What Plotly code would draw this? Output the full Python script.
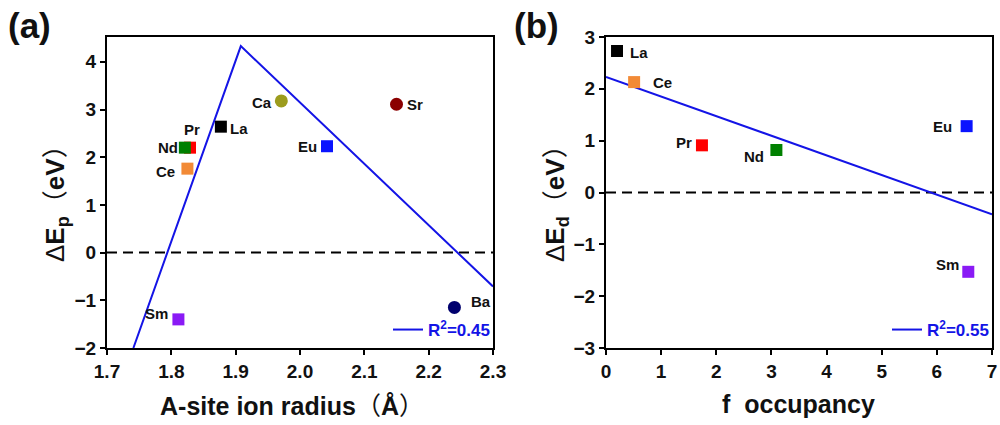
import plotly.graph_objects as go

# ---------------- data: panel (a) ----------------
a_elements = ["La", "Pr", "Nd", "Ce", "Ca", "Sr", "Eu", "Sm", "Ba"]
a_radius = [1.877, 1.829, 1.821, 1.825, 1.971, 2.150, 2.042, 1.811, 2.240]
a_dEp = [2.64, 2.20, 2.20, 1.76, 3.18, 3.11, 2.23, -1.40, -1.15]
a_symbols = ["square", "square", "square", "square", "circle", "circle", "square", "square", "circle"]
a_colors = ["#000000", "#FF0000", "#008000", "#F28A36", "#9C9C1E", "#8B0000", "#0A14FF", "#8A1AF5", "#00006E"]
a_fit_x = [1.741, 1.908, 2.300]
a_fit_y = [-2.00, 4.33, -0.71]
a_fit_name = "R<sup>2</sup>=0.45"
a_xticks = [1.7, 1.8, 1.9, 2.0, 2.1, 2.2, 2.3]
a_yticks = [-2, -1, 0, 1, 2, 3, 4]

# ---------------- data: panel (b) ----------------
b_elements = ["La", "Ce", "Pr", "Nd", "Eu", "Sm"]
b_focc = [0.20, 0.51, 1.74, 3.09, 6.54, 6.57]
b_dEd = [2.73, 2.13, 0.91, 0.82, 1.28, -1.53]
b_colors = ["#000000", "#F28A36", "#FF0000", "#008000", "#0A14FF", "#8A1AF5"]
b_fit_x = [0.0, 7.0]
b_fit_y = [2.23, -0.42]
b_fit_name = "R<sup>2</sup>=0.55"
b_xticks = [0, 1, 2, 3, 4, 5, 6, 7]
b_yticks = [-3, -2, -1, 0, 1, 2, 3]

# label offsets in pixels (style)
a_offsets = {"La": (18, -2), "Pr": (2, 18), "Nd": (-17, 0), "Ce": (-22, -3), "Ca": (-19, -2),
             "Sr": (18, 0), "Eu": (-20, 0), "Sm": (-22, 6), "Ba": (27, 6)}
b_offsets = {"La": (22, -2), "Ce": (28, 0), "Pr": (-18, 3), "Nd": (-22, -6), "Eu": (-24, 0), "Sm": (-21, 7)}

FONT = "Liberation Sans, Arial, Noto Sans CJK SC, sans-serif"
CJK = "Noto Sans CJK SC"
BLUE = "#1414E6"

fig = go.Figure()

# fit lines
fig.add_trace(go.Scatter(x=a_fit_x, y=a_fit_y, mode="lines", line=dict(color=BLUE, width=2),
                         name=a_fit_name, xaxis="x", yaxis="y", legend="legend"))
fig.add_trace(go.Scatter(x=b_fit_x, y=b_fit_y, mode="lines", line=dict(color=BLUE, width=2),
                         name=b_fit_name, xaxis="x2", yaxis="y2", legend="legend2"))

# points (a)
for el, xv, yv, sym, col in zip(a_elements, a_radius, a_dEp, a_symbols, a_colors):
    fig.add_trace(go.Scatter(x=[xv], y=[yv], mode="markers",
                             marker=dict(symbol=sym, size=12 if sym == "square" else 13, color=col, line=dict(width=0)),
                             showlegend=False, xaxis="x", yaxis="y"))
    dx, dy = a_offsets[el]
    fig.add_annotation(x=xv, y=yv, xref="x", yref="y", text=el, showarrow=False,
                       xshift=dx, yshift=dy, font=dict(family=FONT, size=15, color="#111", weight="bold"))

# points (b)
for el, xv, yv, col in zip(b_elements, b_focc, b_dEd, b_colors):
    fig.add_trace(go.Scatter(x=[xv], y=[yv], mode="markers",
                             marker=dict(symbol="square", size=12, color=col, line=dict(width=0)),
                             showlegend=False, xaxis="x2", yaxis="y2"))
    dx, dy = b_offsets[el]
    fig.add_annotation(x=xv, y=yv, xref="x2", yref="y2", text=el, showarrow=False,
                       xshift=dx, yshift=dy, font=dict(family=FONT, size=15, color="#111", weight="bold"))

# zero reference lines
for xr, yr in (("x domain", "y"), ("x2 domain", "y2")):
    fig.add_shape(type="line", xref=xr, yref=yr, x0=0, x1=1, y0=0, y1=0,
                  line=dict(color="black", width=2, dash="10px,6px"), layer="below")

axis_common = dict(showline=True, linewidth=2, linecolor="black", mirror=True, ticks="outside",
                   ticklen=5, tickwidth=2, tickcolor="black", showgrid=False, zeroline=False,
                   automargin=False,
                   tickfont=dict(family=FONT, size=19, color="#111", weight="bold"))

ydom = [(425 - 348) / 425, (425 - 37) / 425]
fig.update_layout(
    width=1000, height=425, margin=dict(l=0, r=0, t=0, b=0, autoexpand=False),
    paper_bgcolor="white", plot_bgcolor="white",
    xaxis=dict(domain=[0.107, 0.493], range=[1.7, 2.3], tickvals=a_xticks,
               ticktext=[f"{v:.1f}" for v in a_xticks], anchor="y", **axis_common),
    yaxis=dict(domain=ydom, range=[-2, 4.52], tickvals=a_yticks,
               ticktext=[str(v).replace("-", "\u2212") for v in a_yticks], anchor="x", **axis_common),
    xaxis2=dict(domain=[0.606, 0.992], range=[0, 7], tickvals=b_xticks, anchor="y2", **axis_common),
    yaxis2=dict(domain=ydom, range=[-3, 3], tickvals=b_yticks,
                ticktext=[str(v).replace("-", "\u2212") for v in b_yticks], anchor="x2", **axis_common),
    legend=dict(x=0.495, y=(425 - 330) / 425, xanchor="right", yanchor="middle",
                bgcolor="rgba(0,0,0,0)", borderwidth=0, tracegroupgap=0,
                font=dict(family=FONT, size=17, color=BLUE, weight="bold"), itemwidth=30),
    legend2=dict(x=0.994, y=(425 - 330) / 425, xanchor="right", yanchor="middle",
                 bgcolor="rgba(0,0,0,0)", borderwidth=0,
                 font=dict(family=FONT, size=17, color=BLUE, weight="bold"), itemwidth=30),
    showlegend=True,
)

# axis titles and panel labels
title_font = dict(family=FONT, size=25, color="#111")
ytitle_font = dict(family=FONT, size=26, color="#111")
par_l = f"<span style='font-family:{CJK};font-weight:normal'>（</span>"
par_r = f"<span style='font-family:{CJK};font-weight:normal'>）</span>"
fig.add_annotation(x=292 / 1000, y=(425 - 404) / 425, xref="paper", yref="paper", showarrow=False,
                   xanchor="center", yanchor="middle",
                   text=f"<b>A-site ion radius</b>{par_l}<b>Å</b>{par_r}", font=title_font)
fig.add_annotation(x=798 / 1000, y=(425 - 404) / 425, xref="paper", yref="paper", showarrow=False,
                   xanchor="center", yanchor="middle",
                   text="<b>f\u00a0 occupancy</b>", font=title_font)
fig.add_annotation(x=53 / 1000, y=(425 - 197) / 425, xref="paper", yref="paper", showarrow=False,
                   xanchor="center", yanchor="middle", textangle=-90,
                   text=f"Δ<b>E<sub>p</sub></b>{par_l}<b>eV</b>{par_r}", font=ytitle_font)
fig.add_annotation(x=553 / 1000, y=(425 - 197) / 425, xref="paper", yref="paper", showarrow=False,
                   xanchor="center", yanchor="middle", textangle=-90,
                   text=f"Δ<b>E<sub>d</sub></b>{par_l}<b>eV</b>{par_r}", font=ytitle_font)
fig.add_annotation(x=29 / 1000, y=(425 - 25) / 425, xref="paper", yref="paper", showarrow=False,
                   xanchor="center", yanchor="middle",
                   text="<b>(a)</b>", font=dict(family=FONT, size=35, color="#111"))
fig.add_annotation(x=536 / 1000, y=(425 - 25) / 425, xref="paper", yref="paper", showarrow=False,
                   xanchor="center", yanchor="middle",
                   text="<b>(b)</b>", font=dict(family=FONT, size=35, color="#111"))

fig.write_html("out.html")
